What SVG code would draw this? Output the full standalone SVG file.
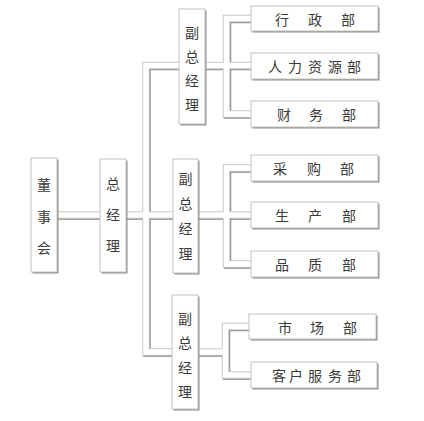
<svg xmlns="http://www.w3.org/2000/svg" xmlns:xlink="http://www.w3.org/1999/xlink" width="424" height="421" viewBox="0 0 424 421">
<style>
.bg{fill:#ffffff}
.shadow{fill:#8c8c84}
.box{fill:#ffffff;stroke:#c4c4bc;stroke-width:1}
.t{font-family:"Noto Sans CJK SC","Noto Sans CJK TC",sans-serif;font-size:14px;fill:#3a3a3a;text-anchor:middle;dominant-baseline:central}
.pd{fill:none;stroke:#8c8c84;stroke-width:7.5;stroke-linejoin:miter}
.pl{fill:none;stroke:#c8c8c0;stroke-width:7.5;stroke-linejoin:miter}
.pc{fill:none;stroke:#ffffff;stroke-width:5.5;stroke-linejoin:miter}
</style>
<defs>
<g id="pipes">
<path d="M181,65.5 H146 V352 H174"/>
<path d="M55,215 H102"/>
<path d="M124,215 H175"/>
<path d="M203,65.5 H253"/>
<path d="M253,18.5 H226.5 V114 H253"/>
<path d="M196,215 H253"/>
<path d="M253,168 H226.5 V264 H253"/>
<path d="M196,352 H225.5"/>
<path d="M252,326.5 H225.5 V375 H253"/>
</g>
</defs>
<rect class="bg" x="0" y="0" width="424" height="421"/>
<g id="connectors">
<use xlink:href="#pipes" class="pd" transform="translate(1,1)"/>
<use xlink:href="#pipes" class="pl"/>
<use xlink:href="#pipes" class="pc"/>
</g>
<g id="board">
<rect class="shadow" x="32.5" y="159.5" width="26" height="114"/>
<rect class="box" x="31" y="158" width="26" height="114"/>
<text class="t" x="44 44 44" y="184 216 247">董事会</text>
</g>
<g id="gm">
<rect class="shadow" x="101.5" y="160.5" width="26" height="113"/>
<rect class="box" x="100" y="159" width="26" height="113"/>
<text class="t" x="113 113 113" y="183 214 245">总经理</text>
</g>
<g id="vp1">
<rect class="shadow" x="180.5" y="10.5" width="26" height="115"/>
<rect class="box" x="179" y="9" width="26" height="115"/>
<text class="t" x="192 192 192 192" y="32 56 80 104">副总经理</text>
</g>
<g id="vp2">
<rect class="shadow" x="174.5" y="160.5" width="25" height="114"/>
<rect class="box" x="173" y="159" width="25" height="114"/>
<text class="t" x="185.5 185.5 185.5 185.5" y="178 203 228 253">副总经理</text>
</g>
<g id="vp3">
<rect class="shadow" x="173.5" y="296.5" width="26" height="114"/>
<rect class="box" x="172" y="295" width="26" height="114"/>
<text class="t" x="185 185 185 185" y="318 342 367 391">副总经理</text>
</g>
<g id="admin">
<rect class="shadow" x="252.5" y="7.5" width="127" height="25"/>
<rect class="box" x="251" y="6" width="127" height="25"/>
<text class="t" x="282 315 348" y="18.5">行政部</text>
</g>
<g id="hr">
<rect class="shadow" x="252.5" y="54.5" width="127" height="26"/>
<rect class="box" x="251" y="53" width="127" height="26"/>
<text class="t" x="275 295 315 335 354" y="66">人力资源部</text>
</g>
<g id="finance">
<rect class="shadow" x="252.5" y="102.5" width="127" height="26"/>
<rect class="box" x="251" y="101" width="127" height="26"/>
<text class="t" x="284 316 349" y="114">财务部</text>
</g>
<g id="purchase">
<rect class="shadow" x="252.5" y="156.5" width="127" height="26"/>
<rect class="box" x="251" y="155" width="127" height="26"/>
<text class="t" x="280 314 347" y="168">采购部</text>
</g>
<g id="production">
<rect class="shadow" x="252.5" y="203.5" width="127" height="26"/>
<rect class="box" x="251" y="202" width="127" height="26"/>
<text class="t" x="282 315 349" y="215">生产部</text>
</g>
<g id="quality">
<rect class="shadow" x="252.5" y="252.5" width="127" height="26"/>
<rect class="box" x="251" y="251" width="127" height="26"/>
<text class="t" x="282 315 349" y="264">品质部</text>
</g>
<g id="market">
<rect class="shadow" x="250.5" y="315.5" width="127" height="25"/>
<rect class="box" x="249" y="314" width="127" height="25"/>
<text class="t" x="285 317 350" y="326.5">市场部</text>
</g>
<g id="service">
<rect class="shadow" x="252.5" y="363.5" width="126" height="26"/>
<rect class="box" x="251" y="362" width="126" height="26"/>
<text class="t" x="279 296 315 335 354" y="375">客户服务部</text>
</g>
</svg>
